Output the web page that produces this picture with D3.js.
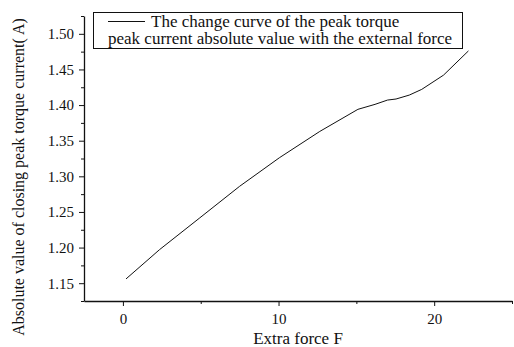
<!DOCTYPE html>
<html>
<head>
<meta charset="utf-8">
<script src="https://cdn.jsdelivr.net/npm/d3@7"></script>
<style>
  body { margin: 0; background: #fff; }
  svg { display: block; }
</style>
</head>
<body>
<svg id="chart"></svg>
<script>
const width = 514;
const height = 347;

// values
const force = [0.2, 2.35, 4.9, 7.5, 10.05, 12.65, 15.1, 16.2, 17.0, 17.55, 18.4, 19.2, 20.6, 22.2];
const current = [1.156, 1.197, 1.241, 1.286, 1.326, 1.363, 1.394, 1.401, 1.407, 1.4085, 1.414, 1.422, 1.442, 1.476];

const xTicks = [0, 10, 20];
const xMinor = [5, 15, 25];
const yTicks = [1.15, 1.2, 1.25, 1.3, 1.35, 1.4, 1.45, 1.5];
const yMinor = [1.125, 1.175, 1.225, 1.275, 1.325, 1.375, 1.425, 1.475, 1.525];

const legendLines = ["The change curve of the peak torque", "peak current absolute value with the external force"];
const xTitle = "Extra force F";
const yTitle = "Absolute value of closing peak torque current( A)";

const fontFam = '"Liberation Serif", "Times New Roman", monospace';
const margin = { top: 16, right: 2, bottom: 46, left: 84 };

const svg = d3.select("#chart").attr("width", width).attr("height", height);

const x = d3.scaleLinear().domain([-2.5, 25]).range([margin.left, width - margin.right]);
const y = d3.scaleLinear().domain([1.125, 1.525]).range([height - margin.bottom, margin.top]);

// minor ticks first, major on top
svg.append("g")
  .attr("transform", `translate(0,${height - margin.bottom})`)
  .call(d3.axisBottom(x).tickValues(xMinor).tickSize(3).tickFormat(""))
  .call((g) => g.select(".domain").remove());

svg.append("g")
  .attr("transform", `translate(${margin.left},0)`)
  .call(d3.axisLeft(y).tickValues(yMinor).tickSize(3).tickFormat(""))
  .call((g) => g.select(".domain").remove());

const xAxis = svg.append("g")
  .attr("transform", `translate(0,${height - margin.bottom})`)
  .call(d3.axisBottom(x).tickValues(xTicks).tickSize(5).tickSizeOuter(0).tickPadding(7).tickFormat(d3.format("d")));

const yAxis = svg.append("g")
  .attr("transform", `translate(${margin.left},0)`)
  .call(d3.axisLeft(y).tickValues(yTicks).tickSize(5).tickSizeOuter(0).tickPadding(5).tickFormat(d3.format(".2f")));

[xAxis, yAxis].forEach((g) => {
  g.attr("font-family", null).attr("font-size", null);
  g.selectAll("text").attr("fill", "#111").style("font-family", fontFam).style("font-size", "15px");
  g.select(".domain").attr("stroke", "#111").attr("stroke-width", 1.3);
});
svg.selectAll(".tick line").attr("stroke", "#111");

// curve
const pts = force.map((f, i) => [f, current[i]]);
const line = d3.line()
  .x((d) => x(d[0]))
  .y((d) => y(d[1]));

svg.append("path")
  .datum(pts)
  .attr("d", line)
  .attr("fill", "none")
  .attr("stroke", "#111")
  .attr("stroke-width", 1);

// legend
const legend = svg.append("g");
legend.append("rect")
  .attr("x", 93.5).attr("y", 12.5)
  .attr("width", 369).attr("height", 36)
  .attr("fill", "#fff").attr("stroke", "#111").attr("stroke-width", 1);
legend.append("line")
  .attr("x1", 108).attr("x2", 145).attr("y1", 21.5).attr("y2", 21.5)
  .attr("stroke", "#111").attr("stroke-width", 1);
legend.append("text")
  .attr("x", 151).attr("y", 27)
  .attr("fill", "#111")
  .style("font-family", fontFam).style("font-size", "17px")
  .text(legendLines[0]);
legend.append("text")
  .attr("x", 108).attr("y", 44)
  .attr("fill", "#111")
  .style("font-family", fontFam).style("font-size", "17px")
  .text(legendLines[1]);

// axis titles
svg.append("text")
  .attr("x", 298).attr("y", 344)
  .attr("text-anchor", "middle")
  .attr("fill", "#111")
  .style("font-family", fontFam).style("font-size", "17px")
  .text(xTitle);

svg.append("text")
  .attr("transform", "translate(24,177) rotate(-90)")
  .attr("text-anchor", "middle")
  .attr("fill", "#111")
  .style("font-family", fontFam).style("font-size", "16px")
  .text(yTitle);
</script>
</body>
</html>
